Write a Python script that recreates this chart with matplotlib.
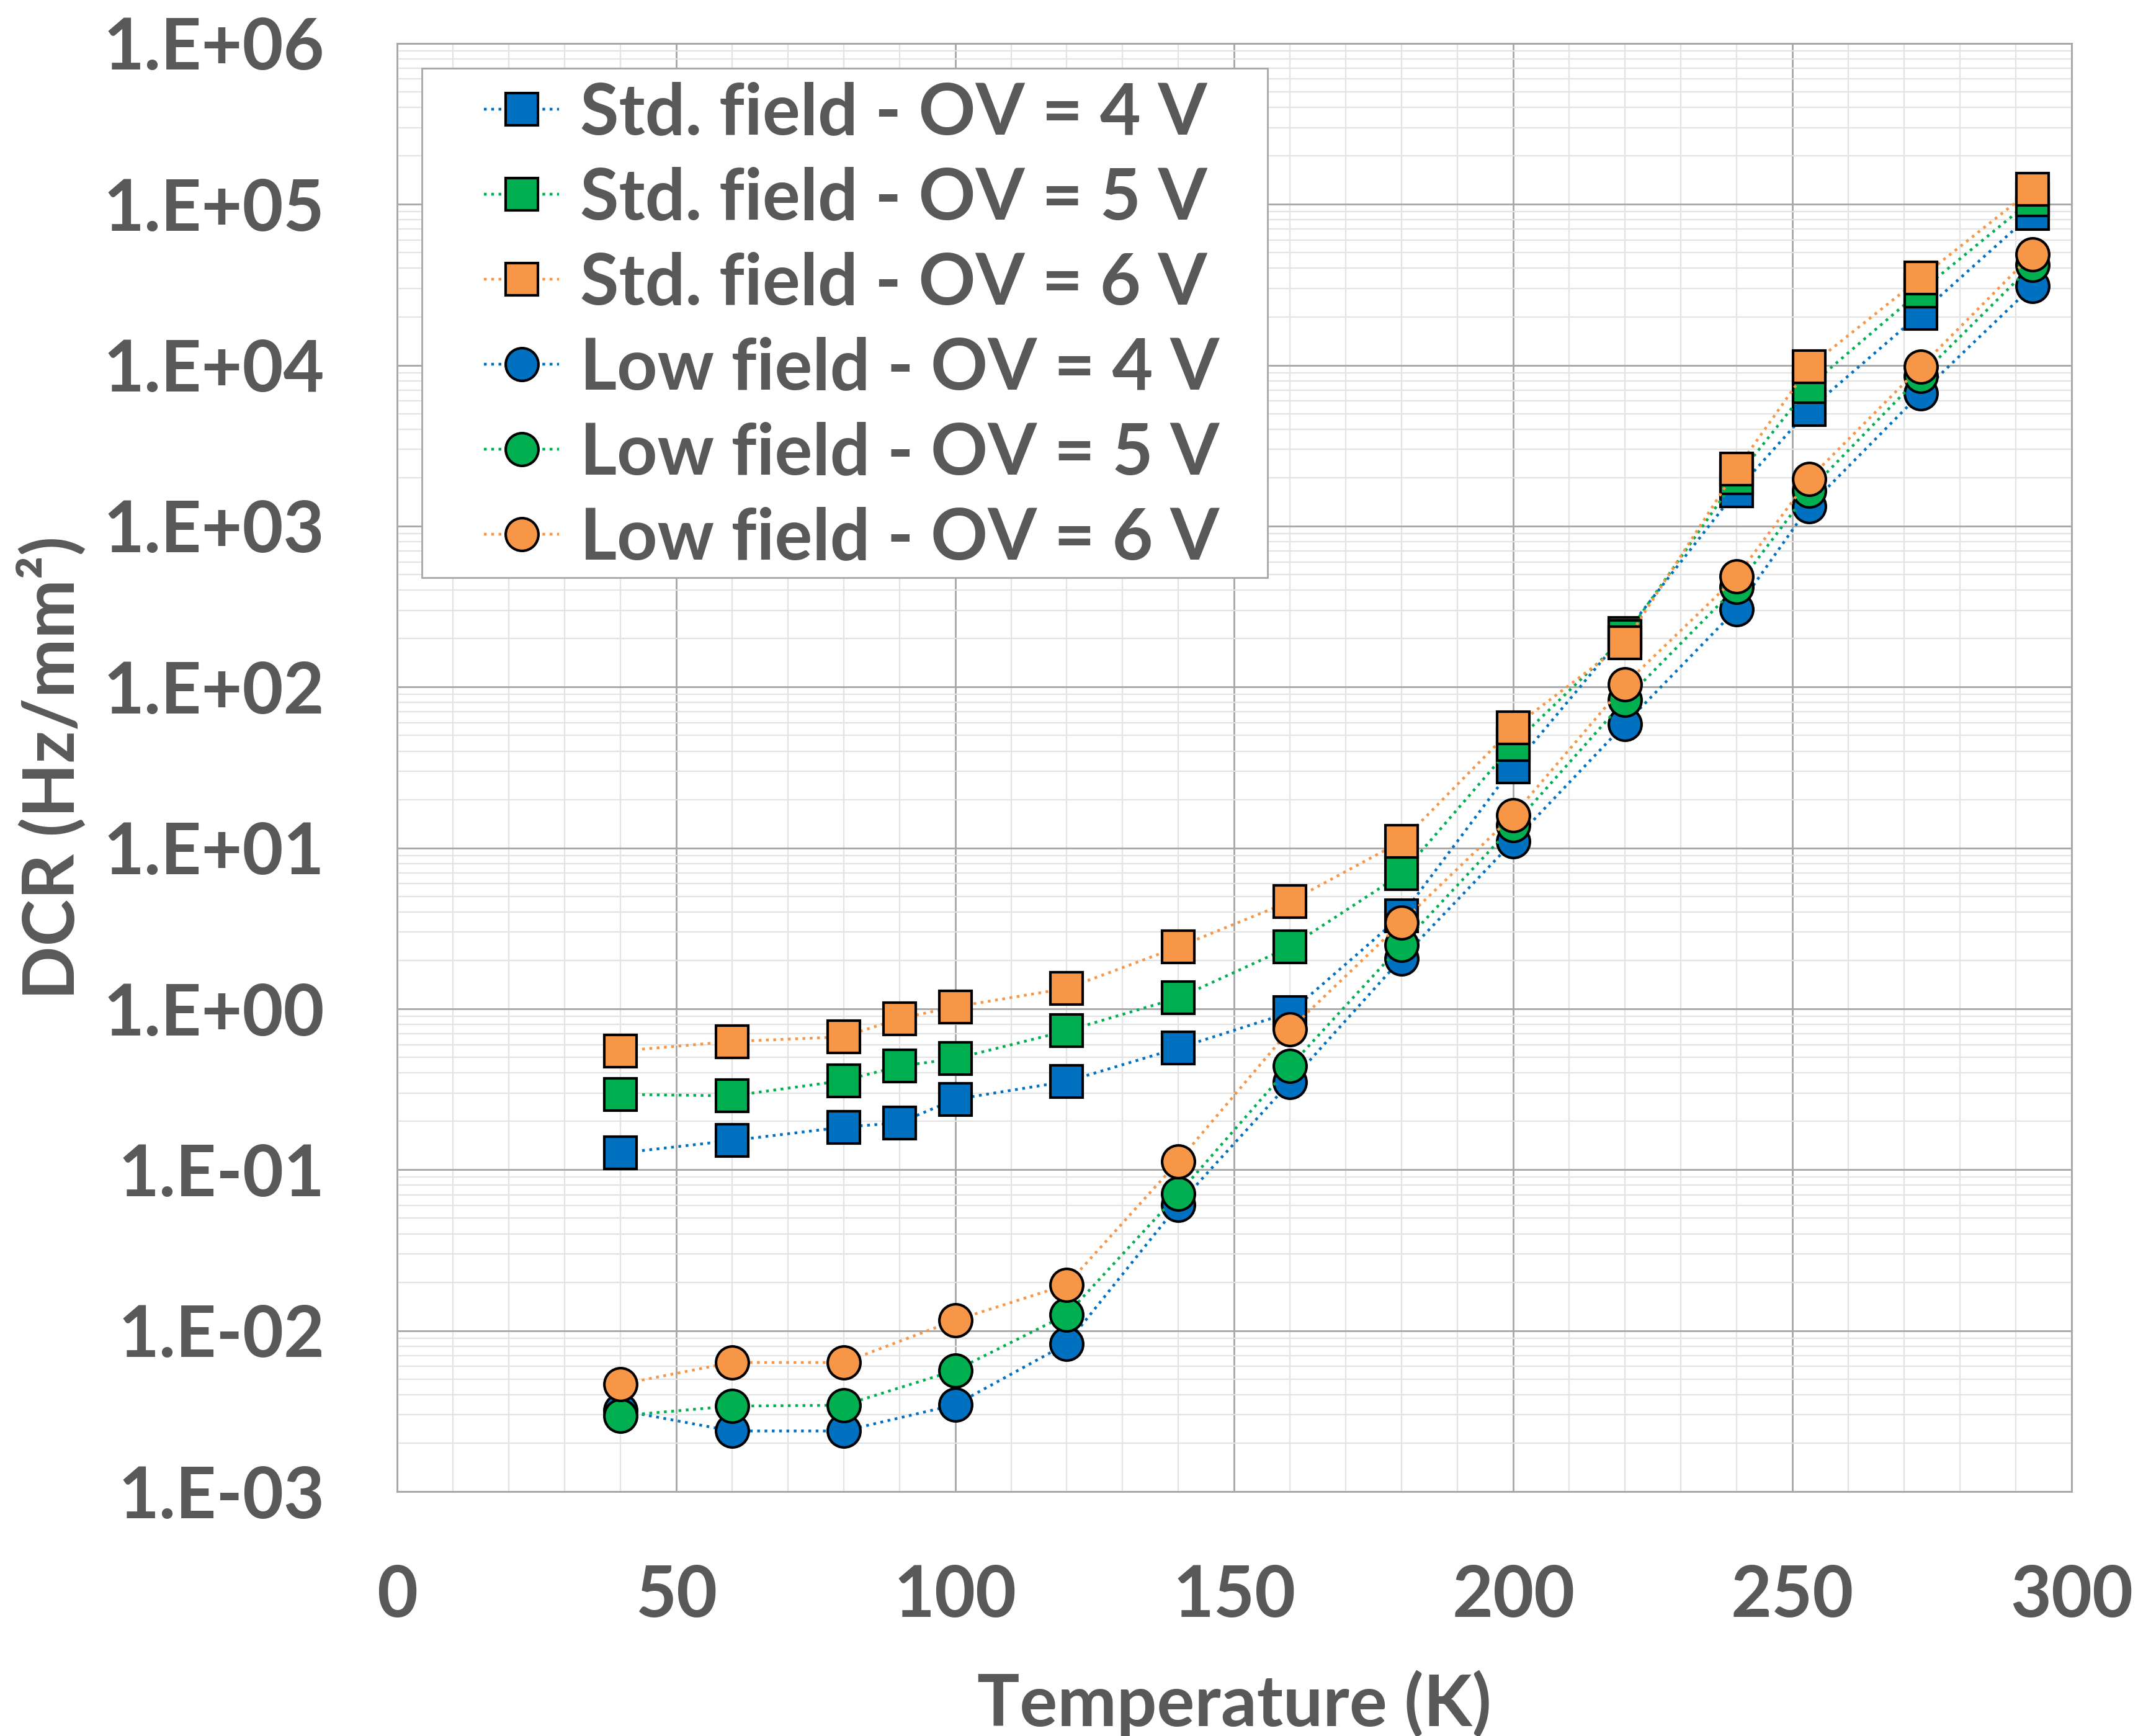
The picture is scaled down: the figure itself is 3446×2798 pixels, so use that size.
import math
import matplotlib
matplotlib.use('Agg')
import matplotlib.pyplot as plt
from matplotlib.patches import Rectangle
from matplotlib.ticker import MultipleLocator, LogLocator, FuncFormatter, NullFormatter

GRAY = '#595959'
BLUE = '#0070C0'
GREEN = '#00B050'
ORANGE = '#F79646'

plt.rcParams.update({
    'font.family': ['Lato', 'DejaVu Sans'],
    'font.weight': 'bold',
    'text.color': GRAY,
    'axes.labelcolor': GRAY,
    'xtick.color': GRAY,
    'ytick.color': GRAY,
})

# temperature (K)
temps = [40, 60, 80, 90, 100, 120, 140, 160, 180, 200, 220, 240, 253, 273, 293]
low_temps = [40, 60, 80, 100, 120, 140, 160, 180, 200, 220, 240, 253, 273, 293]

# DCR (Hz/mm2), standard field
std_4v = [0.127, 0.152, 0.184, 0.196, 0.274, 0.354, 0.571, 0.95, 3.8, 32, 216, 1660, 5300, 21000, 88000]
std_5v = [0.294, 0.288, 0.358, 0.44, 0.49, 0.73, 1.17, 2.43, 6.9, 44, 205, 2000, 7400, 29000, 107000]
std_6v = [0.547, 0.627, 0.67, 0.87, 1.03, 1.34, 2.43, 4.65, 11, 56, 188, 2260, 9800, 35000, 124000]

# DCR (Hz/mm2), low field
low_4v = [0.0032, 0.00238, 0.00238, 0.00346, 0.0083, 0.0607, 0.35, 2.06, 11, 59, 305, 1330, 6700, 31000]
low_5v = [0.00296, 0.0034, 0.00344, 0.00566, 0.0126, 0.071, 0.44, 2.5, 13.8, 83, 420, 1660, 8600, 42000]
low_6v = [0.00464, 0.00634, 0.00634, 0.0116, 0.0193, 0.113, 0.746, 3.45, 16, 104, 485, 1970, 9800, 49000]

series = [
    (temps, std_4v, 's', BLUE, 'Std. field - OV = 4 V'),
    (temps, std_5v, 's', GREEN, 'Std. field - OV = 5 V'),
    (temps, std_6v, 's', ORANGE, 'Std. field - OV = 6 V'),
    (low_temps, low_4v, 'o', BLUE, 'Low field - OV = 4 V'),
    (low_temps, low_5v, 'o', GREEN, 'Low field - OV = 5 V'),
    (low_temps, low_6v, 'o', ORANGE, 'Low field - OV = 6 V'),
]

fig = plt.figure(figsize=(17.23, 13.99), dpi=200)
ax = fig.add_axes([0.1857, 0.1408, 0.7832, 0.8342])

for i, (x, y, m, c, lab) in enumerate(series):
    ax.plot(x, y, linestyle=':', lw=1.6, color=c, marker=m, ms=19,
            mfc=c, mec='black', mew=1.5, label=lab, zorder=3 + i)

ax.set_yscale('log')
ax.set_xlim(0, 300)
ax.set_ylim(1e-3, 1e6)
ax.xaxis.set_major_locator(MultipleLocator(50))
ax.xaxis.set_minor_locator(MultipleLocator(10))
ax.yaxis.set_major_locator(LogLocator(base=10, numticks=20))
ax.yaxis.set_minor_locator(LogLocator(base=10, subs=range(2, 10), numticks=20))
ax.yaxis.set_minor_formatter(NullFormatter())
ax.yaxis.set_major_formatter(FuncFormatter(lambda v, p: '1.E{:+03d}'.format(int(round(math.log10(v))))))

ax.grid(True, which='major', color='#A6A6A6', lw=1.0, zorder=0)
ax.grid(True, which='minor', color='#E3E3E3', lw=0.8, zorder=0)
ax.set_axisbelow(True)
for s in ax.spines.values():
    s.set_color('#A6A6A6')
    s.set_linewidth(1.0)

ax.tick_params(which='both', length=0)
ax.tick_params(axis='both', labelsize=41, pad=42)

ax.set_xlabel('Temperature (K)', fontsize=41, fontweight='bold', labelpad=24)
ax.set_ylabel('DCR (Hz/mm²)', fontsize=41, fontweight='bold', labelpad=10)

# legend box drawn by hand so the side padding can differ from the top one
ax.add_patch(Rectangle((0.0147, 0.631), 0.505, 0.352, transform=ax.transAxes,
                       facecolor='white', edgecolor='#A6A6A6', lw=1.0, zorder=19))
leg = ax.legend(loc='upper left', bbox_to_anchor=(0.052, 0.974), borderaxespad=0,
                fontsize=41, frameon=False, handlelength=1.06, handletextpad=0.3,
                borderpad=0, labelspacing=0.29, numpoints=1)
leg.set_zorder(20)
for t in leg.get_texts():
    t.set_color(GRAY)
    t.set_fontweight('bold')

fig.savefig('out.png', dpi=200)
